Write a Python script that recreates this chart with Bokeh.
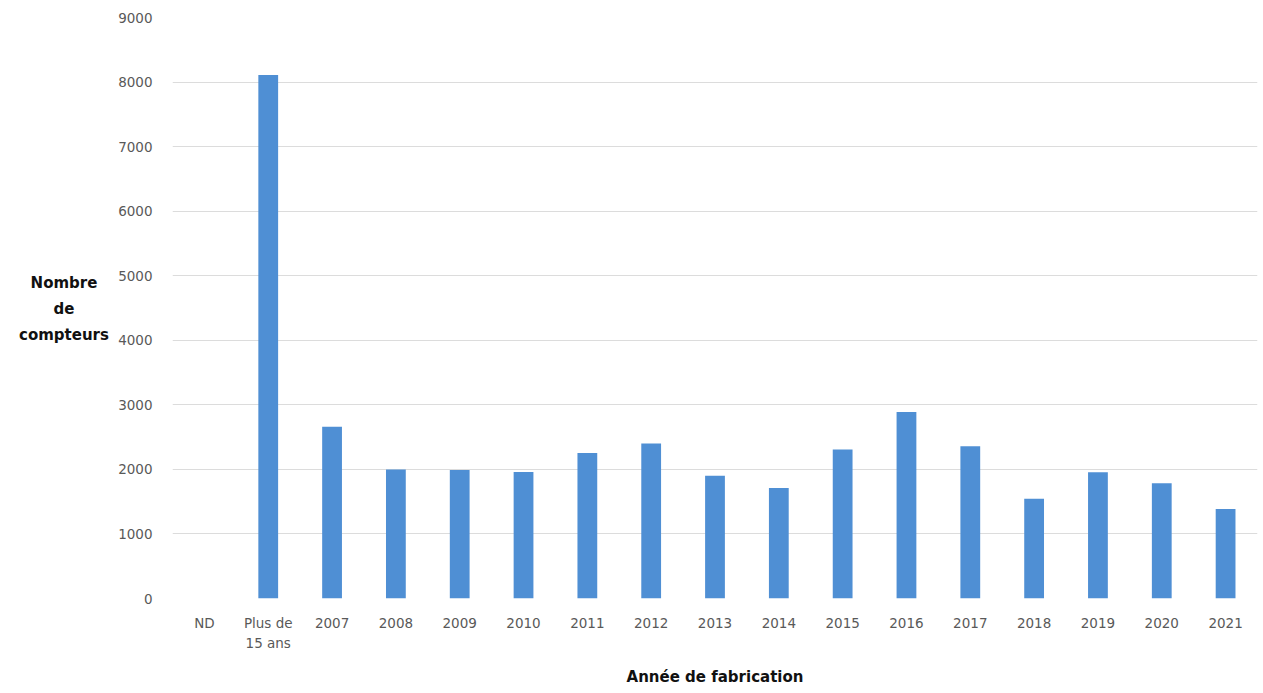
from bokeh.plotting import figure
from bokeh.layouts import row
from bokeh.models import Range1d, FactorRange, FixedTicker, NumeralTickFormatter, Div
from bokeh.embed import file_html
from bokeh.resources import INLINE

# Compteurs par année de fabrication
categories = ["ND", "Plus de\n15 ans", "2007", "2008", "2009", "2010", "2011", "2012",
              "2013", "2014", "2015", "2016", "2017", "2018", "2019", "2020", "2021"]
counts = [0, 8110, 2660, 2000, 1990, 1960, 2255, 2400, 1900, 1710, 2310, 2890,
          2360, 1545, 1955, 1785, 1385]
y_ticks = [0, 1000, 2000, 3000, 4000, 5000, 6000, 7000, 8000, 9000]
y_title_lines = ["Nombre", "de", "compteurs"]
x_title = "Année de fabrication"

FONT = "DejaVu Sans"
TICK_COLOR = "#595959"
TITLE_W = 110

p = figure(
    width=1263 - TITLE_W, height=693,
    x_range=FactorRange(*categories, range_padding=0),
    y_range=Range1d(0, 9000),
    output_backend="svg", toolbar_location=None,
    min_border_left=172 - TITLE_W, min_border_right=6, min_border_top=17, min_border_bottom=95,
    margin=0,
)
p.outline_line_color = None
p.background_fill_color = "white"
p.border_fill_color = "white"

p.vbar(x=categories, top=counts, width=0.31, color="#4f8fd4", line_color=None)

# Axes: no lines, no ticks, grey labels
for ax in (p.xaxis[0], p.yaxis[0]):
    ax.axis_line_color = None
    ax.major_tick_line_color = None
    ax.minor_tick_line_color = None
    ax.major_label_text_font = FONT
    ax.major_label_text_font_size = "13.5px"
    ax.major_label_text_color = TICK_COLOR
    ax.axis_label_text_font = FONT
    ax.axis_label_text_font_style = "bold"
    ax.axis_label_text_color = "#111111"
    ax.axis_label_text_font_size = "15px"

p.yaxis.ticker = FixedTicker(ticks=y_ticks)
p.yaxis.formatter = NumeralTickFormatter(format="0")
p.yaxis.major_label_standoff = 14

p.xaxis.major_label_standoff = 10
p.xaxis.axis_label = x_title
p.xaxis.axis_label_standoff = 14
p.xaxis.major_label_text_line_height = 1.3

p.xgrid.grid_line_color = None
p.ygrid.grid_line_color = "#dcdcdc"
p.ygrid.grid_line_width = 1

# Horizontal, centred y title in a column to the left of the plot
title_html = (
    '<div style="box-sizing:border-box; width:%dpx; padding-left:18px; padding-top:270px; '
    'text-align:center; font-family:\'DejaVu Sans\'; font-weight:bold; font-size:15px; '
    'line-height:26px; color:#111111;">%s</div>' % (TITLE_W, "<br>".join(y_title_lines))
)
y_title = Div(text=title_html, width=TITLE_W, height=693, margin=0,
              styles={"background-color": "white"})

layout = row(y_title, p, spacing=0, margin=0)

open("out.html", "w").write(file_html(layout, INLINE))
